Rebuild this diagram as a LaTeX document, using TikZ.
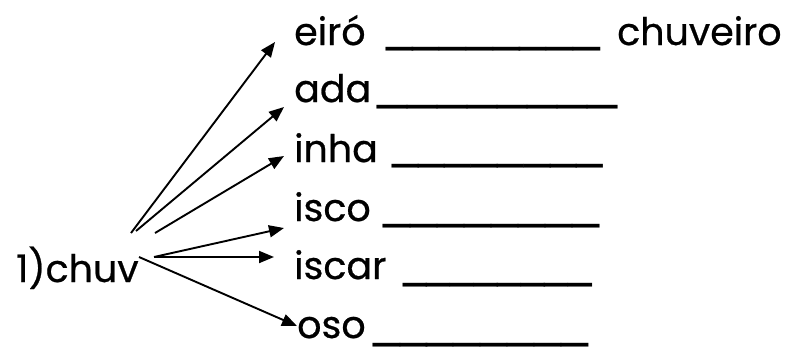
\documentclass[tikz,border=0pt]{standalone}
\usepackage{fontspec}
\setmainfont{Poppins}[FakeBold=0.6]
\newfontfamily\ulfont{DejaVu Sans}
\usepackage{graphicx}
\usetikzlibrary{arrows.meta}
\tikzset{
  word/.style={anchor=base west, inner sep=0pt, font=\fontsize{38}{44}\selectfont},
  blank/.style={anchor=south west, inner sep=0pt, font=\ulfont\fontsize{38}{44}\selectfont},
  arr/.style={line width=1.9pt, -{Triangle[length=15pt,width=12pt]}}
}
\newcommand{\blankline}[1]{\resizebox*{#1}{1.4\totalheight}{\_\_\_\_\_\_\_\_}}
\begin{document}
\begin{tikzpicture}[x=1pt,y=-1pt]
\useasboundingbox (0,0) rectangle (787,349);
\node[word] (root) at (16,282) {1)chuv};
\node[word] (w1) at (294,45) {eiró};
\node[word] (w2) at (294,102) {ada};
\node[word] (w3) at (294,162) {inha};
\node[word] (w4) at (294,221) {isco};
\node[word] (w5) at (294,279) {iscar};
\node[word] (w6) at (297,338) {oso};
\node[word] (ans) at (617,45) {chuveiro};
\node[blank] (b1) at (386,51.5) {\blankline{214pt}};
\node[blank] (b2) at (377,109.5) {\blankline{240pt}};
\node[blank] (b3) at (392,168.5) {\blankline{211pt}};
\node[blank] (b4) at (383,228.5) {\blankline{216pt}};
\node[blank] (b5) at (403,287.5) {\blankline{189pt}};
\node[blank] (b6) at (373,347.5) {\blankline{215pt}};
\coordinate (s1) at (131,233);
\coordinate (s2) at (136,231);
\coordinate (s3) at (155,233);
\coordinate (s4) at (154,257);
\coordinate (s6) at (139,257);
\coordinate (t1) at (275,42);
\coordinate (t2) at (284,107);
\coordinate (t3) at (284,156);
\coordinate (t4) at (284,228);
\coordinate (t5) at (274,257);
\coordinate (t6) at (297,326);
\draw[arr] (s1) -- (t1);
\draw[arr] (s2) -- (t2);
\draw[arr] (s3) -- (t3);
\draw[arr] (s4) -- (t4);
\draw[arr] (s4) -- (t5);
\draw[arr] (s6) -- (t6);
\end{tikzpicture}
\end{document}
